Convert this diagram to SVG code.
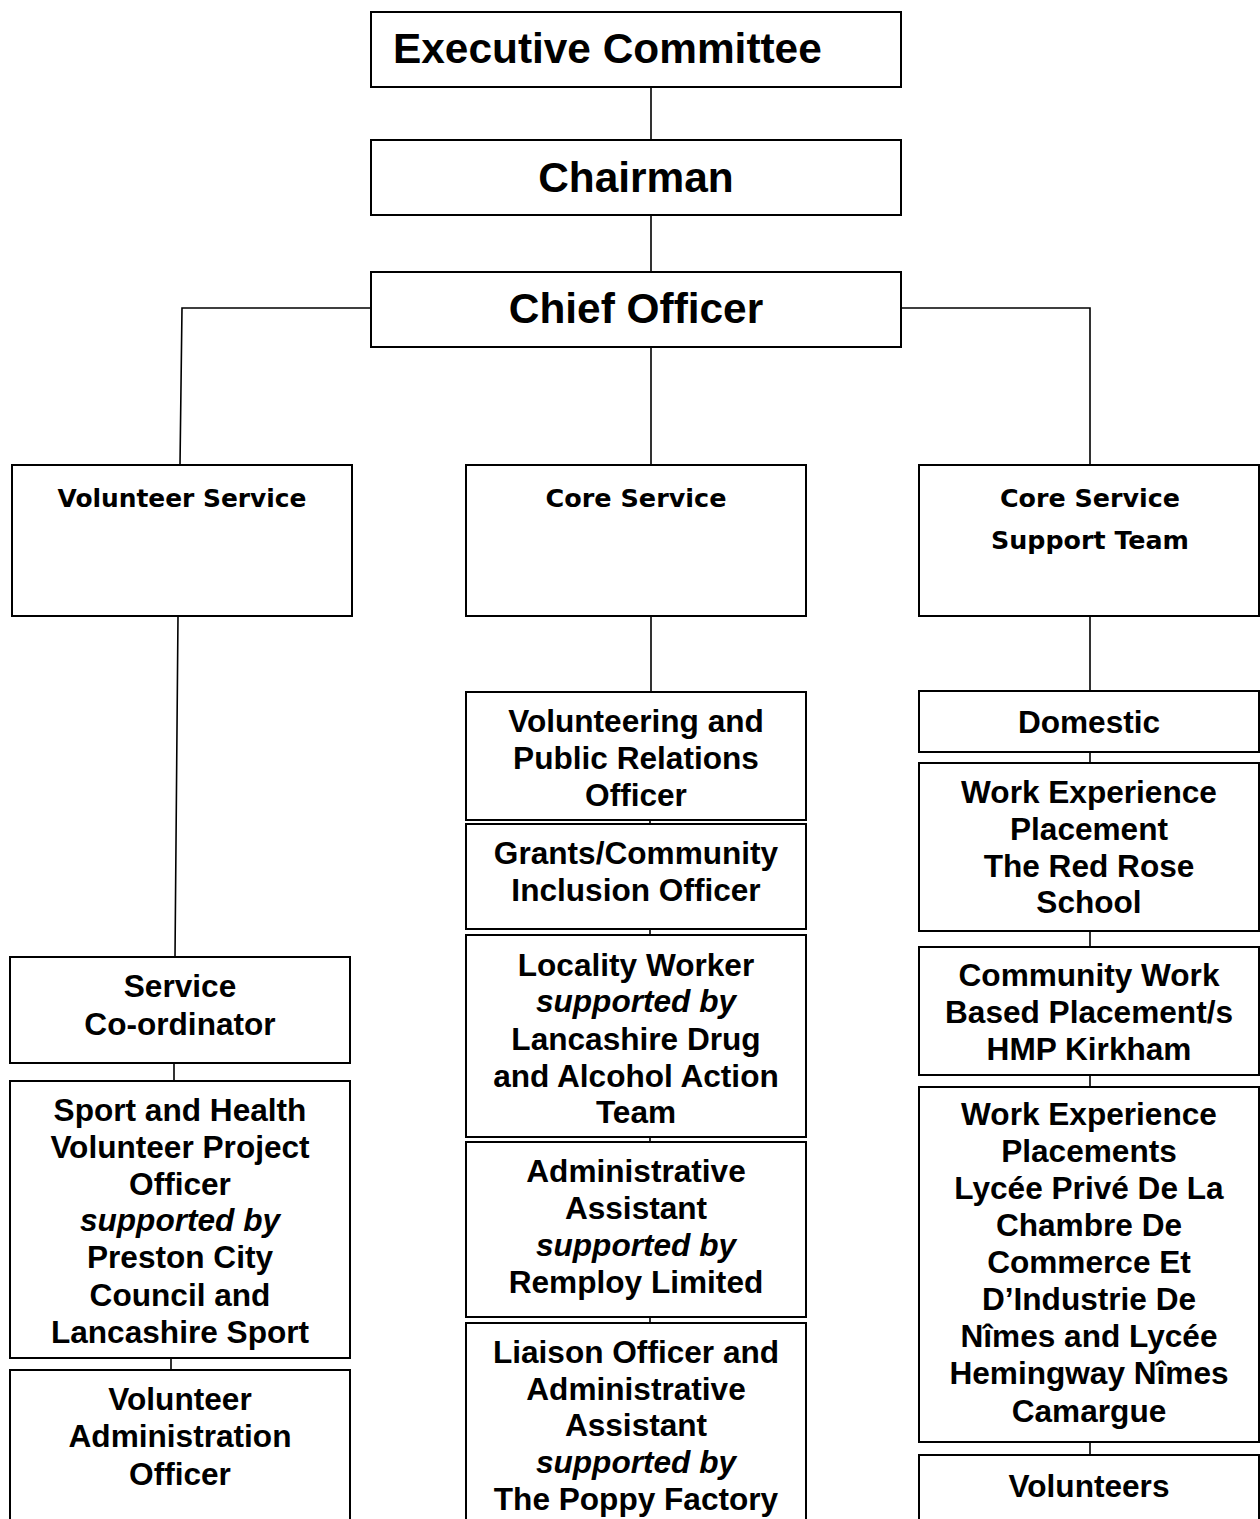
<svg xmlns="http://www.w3.org/2000/svg" width="1260" height="1519" viewBox="0 0 1260 1519">
<style>
.box{fill:#fff;stroke:#000;stroke-width:2}
.ln{fill:none;stroke:#000;stroke-width:1.6}
.t{font-family:"Liberation Sans",Arial,sans-serif;font-weight:bold;font-size:31.6px;fill:#000;text-anchor:middle}
.big{font-family:"Liberation Sans",Arial,sans-serif;font-weight:bold;font-size:42.4px;fill:#000;text-anchor:middle}
.c{font-family:"DejaVu Sans",sans-serif;font-weight:bold;font-size:24px;fill:#000;text-anchor:middle}
.i{font-style:italic}
</style>
<rect width="1260" height="1519" fill="#fff"/>
<g id="connectors">
<path class="ln" d="M651 87V140M651 215V272M651 347V465M371 308H182L180 465M901 308H1090V465M178 616L175 957M174 1063V1081M171 1358V1370M651 616V692M650 820V824M650 929V935M650 1137V1142M650 1317V1323M1090 616V691M1090 752V763M1090 931V947M1090 1075V1087M1090 1442V1455"/>
</g>
<g id="exec"><rect class="box" x="371" y="12" width="530" height="75"/><text class="big" x="393" y="63" style="text-anchor:start">Executive Committee</text></g>
<g id="chairman"><rect class="box" x="371" y="140" width="530" height="75"/><text class="big" x="636" y="192">Chairman</text></g>
<g id="chief"><rect class="box" x="371" y="272" width="530" height="75"/><text class="big" x="636" y="323">Chief Officer</text></g>
<g id="volunteer-service"><rect class="box" x="12" y="465" width="340" height="151"/><text class="c" x="182" y="507" textLength="249" lengthAdjust="spacingAndGlyphs">Volunteer Service</text></g>
<g id="core-service"><rect class="box" x="466" y="465" width="340" height="151"/><text class="c" x="636" y="507" textLength="181" lengthAdjust="spacingAndGlyphs">Core Service</text></g>
<g id="core-support"><rect class="box" x="919" y="465" width="340" height="151"/><text class="c" x="1090" y="507" textLength="180" lengthAdjust="spacingAndGlyphs">Core Service</text><text class="c" x="1090" y="549" textLength="198" lengthAdjust="spacingAndGlyphs">Support Team</text></g>
<g id="service-coordinator"><rect class="box" x="10" y="957" width="340" height="106"/><text class="t" x="180" y="997">Service</text><text class="t" x="180" y="1035">Co-ordinator</text></g>
<g id="sport-health"><rect class="box" x="10" y="1081" width="340" height="277"/><text class="t" x="180" y="1121">Sport and Health</text><text class="t" x="180" y="1158">Volunteer Project</text><text class="t" x="180" y="1195">Officer</text><text class="t i" x="180" y="1231">supported by</text><text class="t" x="180" y="1268">Preston City</text><text class="t" x="180" y="1306">Council and</text><text class="t" x="180" y="1343">Lancashire Sport</text></g>
<g id="volunteer-admin"><rect class="box" x="10" y="1370" width="340" height="170"/><text class="t" x="180" y="1410">Volunteer</text><text class="t" x="180" y="1447">Administration</text><text class="t" x="180" y="1485">Officer</text></g>
<g id="volunteering-pr"><rect class="box" x="466" y="692" width="340" height="128"/><text class="t" x="636" y="732">Volunteering and</text><text class="t" x="636" y="769">Public Relations</text><text class="t" x="636" y="806">Officer</text></g>
<g id="grants"><rect class="box" x="466" y="824" width="340" height="105"/><text class="t" x="636" y="864">Grants/Community</text><text class="t" x="636" y="901">Inclusion Officer</text></g>
<g id="locality"><rect class="box" x="466" y="935" width="340" height="202"/><text class="t" x="636" y="976">Locality Worker</text><text class="t i" x="636" y="1012">supported by</text><text class="t" x="636" y="1050">Lancashire Drug</text><text class="t" x="636" y="1087">and Alcohol Action</text><text class="t" x="636" y="1123">Team</text></g>
<g id="admin-assistant"><rect class="box" x="466" y="1142" width="340" height="175"/><text class="t" x="636" y="1182">Administrative</text><text class="t" x="636" y="1219">Assistant</text><text class="t i" x="636" y="1256">supported by</text><text class="t" x="636" y="1293">Remploy Limited</text></g>
<g id="liaison"><rect class="box" x="466" y="1323" width="340" height="220"/><text class="t" x="636" y="1363">Liaison Officer and</text><text class="t" x="636" y="1400">Administrative</text><text class="t" x="636" y="1436">Assistant</text><text class="t i" x="636" y="1473">supported by</text><text class="t" x="636" y="1510">The Poppy Factory</text></g>
<g id="domestic"><rect class="box" x="919" y="691" width="340" height="61"/><text class="t" x="1089" y="733">Domestic</text></g>
<g id="work-exp-red-rose"><rect class="box" x="919" y="763" width="340" height="168"/><text class="t" x="1089" y="803">Work Experience</text><text class="t" x="1089" y="840">Placement</text><text class="t" x="1089" y="877">The Red Rose</text><text class="t" x="1089" y="913">School</text></g>
<g id="community-work"><rect class="box" x="919" y="947" width="340" height="128"/><text class="t" x="1089" y="986">Community Work</text><text class="t" x="1089" y="1023">Based Placement/s</text><text class="t" x="1089" y="1060">HMP Kirkham</text></g>
<g id="work-exp-nimes"><rect class="box" x="919" y="1087" width="340" height="355"/><text class="t" x="1089" y="1125">Work Experience</text><text class="t" x="1089" y="1162">Placements</text><text class="t" x="1089" y="1199">Lycée Privé De La</text><text class="t" x="1089" y="1236">Chambre De</text><text class="t" x="1089" y="1273">Commerce Et</text><text class="t" x="1089" y="1310">D’Industrie De</text><text class="t" x="1089" y="1347">Nîmes and Lycée</text><text class="t" x="1089" y="1384">Hemingway Nîmes</text><text class="t" x="1089" y="1422">Camargue</text></g>
<g id="volunteers"><rect class="box" x="919" y="1455" width="340" height="90"/><text class="t" x="1089" y="1497">Volunteers</text></g>
</svg>
